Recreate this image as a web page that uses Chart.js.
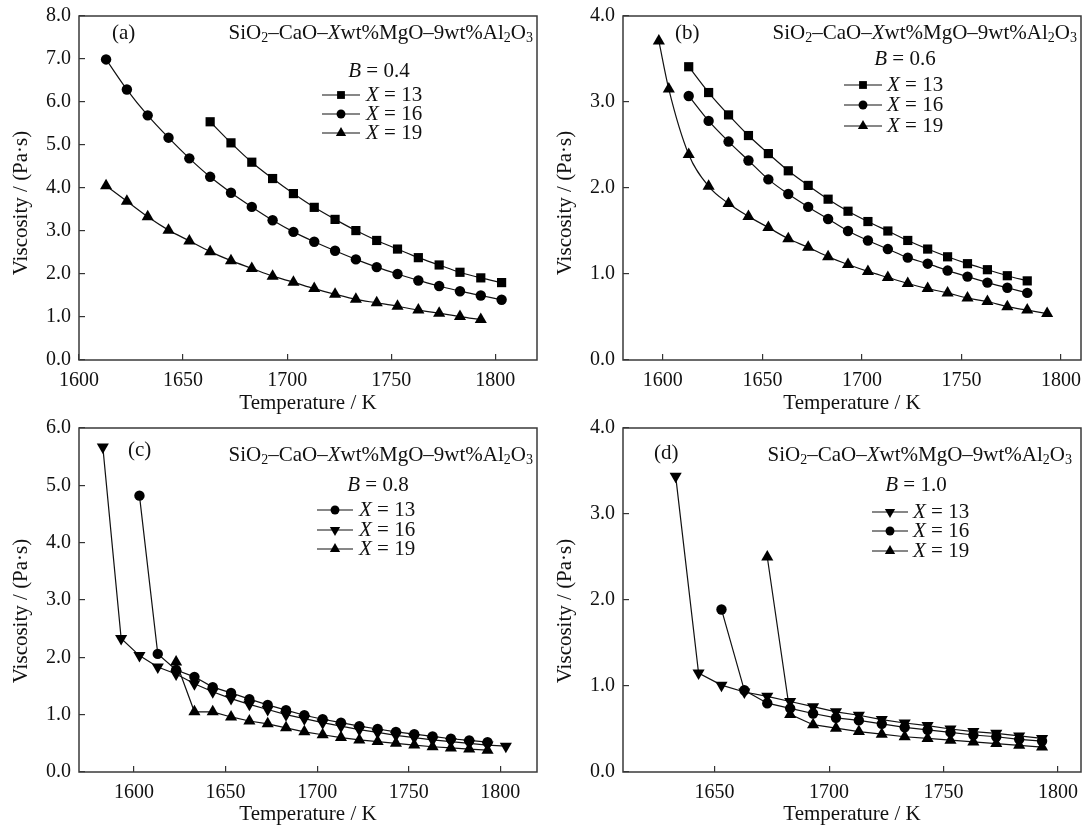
<!DOCTYPE html>
<html>
<head>
<meta charset="utf-8">
<script src="https://cdn.jsdelivr.net/npm/chart.js@4.4.1/dist/chart.umd.min.js"></script>
<style>
  body { margin: 0; background: #fff; }
  #wrap { position: relative; width: 1088px; height: 830px; }
  canvas { position: absolute; }
</style>
</head>
<body>
<div id="wrap">
  <canvas id="panelA" width="544" height="416" style="left:0;top:0"></canvas>
  <canvas id="panelB" width="544" height="416" style="left:544px;top:0"></canvas>
  <canvas id="panelC" width="544" height="414" style="left:0;top:416px"></canvas>
  <canvas id="panelD" width="544" height="414" style="left:544px;top:416px"></canvas>
</div>
<script>
// (a) B = 0.4
const aTemp13 = [1663, 1673, 1683, 1693, 1703, 1713, 1723, 1733, 1743, 1753, 1763, 1773, 1783, 1793, 1803];
const aVisc13 = [5.54, 5.05, 4.60, 4.22, 3.87, 3.55, 3.27, 3.01, 2.78, 2.58, 2.38, 2.21, 2.04, 1.91, 1.80];
const aTemp16 = [1613, 1623, 1633, 1643, 1653, 1663, 1673, 1683, 1693, 1703, 1713, 1723, 1733, 1743, 1753, 1763, 1773, 1783, 1793, 1803];
const aVisc16 = [6.99, 6.29, 5.69, 5.17, 4.69, 4.26, 3.89, 3.56, 3.25, 2.98, 2.75, 2.54, 2.34, 2.16, 2.00, 1.85, 1.72, 1.60, 1.50, 1.40];
const aTemp19 = [1613, 1623, 1633, 1643, 1653, 1663, 1673, 1683, 1693, 1703, 1713, 1723, 1733, 1743, 1753, 1763, 1773, 1783, 1793];
const aVisc19 = [4.05, 3.69, 3.33, 3.02, 2.77, 2.52, 2.31, 2.13, 1.95, 1.81, 1.66, 1.53, 1.41, 1.33, 1.25, 1.16, 1.09, 1.01, 0.94];

// (b) B = 0.6
const bTemp13 = [1613, 1623, 1633, 1643, 1653, 1663, 1673, 1683, 1693, 1703, 1713, 1723, 1733, 1743, 1753, 1763, 1773, 1783];
const bVisc13 = [3.41, 3.11, 2.85, 2.61, 2.40, 2.20, 2.03, 1.87, 1.73, 1.61, 1.50, 1.39, 1.29, 1.20, 1.12, 1.05, 0.98, 0.92];
const bTemp16 = [1613, 1623, 1633, 1643, 1653, 1663, 1673, 1683, 1693, 1703, 1713, 1723, 1733, 1743, 1753, 1763, 1773, 1783];
const bVisc16 = [3.07, 2.78, 2.54, 2.32, 2.10, 1.93, 1.78, 1.64, 1.50, 1.39, 1.29, 1.19, 1.12, 1.04, 0.97, 0.90, 0.84, 0.78];
const bTemp19 = [1598, 1603, 1613, 1623, 1633, 1643, 1653, 1663, 1673, 1683, 1693, 1703, 1713, 1723, 1733, 1743, 1753, 1763, 1773, 1783, 1793];
const bVisc19 = [3.71, 3.15, 2.39, 2.02, 1.82, 1.67, 1.54, 1.41, 1.31, 1.20, 1.11, 1.03, 0.96, 0.89, 0.83, 0.78, 0.72, 0.68, 0.62, 0.58, 0.54];

// (c) B = 0.8
const cTemp13 = [1603, 1613, 1623, 1633, 1643, 1653, 1663, 1673, 1683, 1693, 1703, 1713, 1723, 1733, 1743, 1753, 1763, 1773, 1783, 1793];
const cVisc13 = [4.82, 2.06, 1.78, 1.66, 1.48, 1.38, 1.27, 1.17, 1.08, 0.99, 0.92, 0.86, 0.80, 0.75, 0.70, 0.66, 0.62, 0.58, 0.55, 0.52];
const cTemp16 = [1583, 1593, 1603, 1613, 1623, 1633, 1643, 1653, 1663, 1673, 1683, 1693, 1703, 1713, 1723, 1733, 1743, 1753, 1763, 1773, 1783, 1793, 1803];
const cVisc16 = [5.67, 2.33, 2.03, 1.83, 1.71, 1.54, 1.40, 1.28, 1.18, 1.09, 1.00, 0.93, 0.86, 0.80, 0.74, 0.69, 0.64, 0.60, 0.56, 0.53, 0.50, 0.47, 0.45];
const cTemp19 = [1623, 1633, 1643, 1653, 1663, 1673, 1683, 1693, 1703, 1713, 1723, 1733, 1743, 1753, 1763, 1773, 1783, 1793];
const cVisc19 = [1.92, 1.05, 1.05, 0.96, 0.89, 0.84, 0.77, 0.70, 0.65, 0.60, 0.56, 0.53, 0.50, 0.47, 0.44, 0.42, 0.40, 0.38];

// (d) B = 1.0
const dTemp13 = [1633, 1643, 1653, 1663, 1673, 1683, 1693, 1703, 1713, 1723, 1733, 1743, 1753, 1763, 1773, 1783, 1793];
const dVisc13 = [3.44, 1.15, 1.01, 0.93, 0.88, 0.82, 0.76, 0.70, 0.66, 0.61, 0.57, 0.54, 0.50, 0.47, 0.45, 0.42, 0.39];
const dTemp16 = [1653, 1663, 1673, 1683, 1693, 1703, 1713, 1723, 1733, 1743, 1753, 1763, 1773, 1783, 1793];
const dVisc16 = [1.89, 0.95, 0.80, 0.74, 0.68, 0.63, 0.60, 0.56, 0.52, 0.49, 0.46, 0.43, 0.41, 0.38, 0.36];
const dTemp19 = [1673, 1683, 1693, 1703, 1713, 1723, 1733, 1743, 1753, 1763, 1773, 1783, 1793];
const dVisc19 = [2.50, 0.67, 0.55, 0.51, 0.47, 0.44, 0.41, 0.39, 0.37, 0.35, 0.33, 0.31, 0.29];

// tick values
const xTicksA = [1600, 1650, 1700, 1750, 1800];
const xTicksB = [1600, 1650, 1700, 1750, 1800];
const xTicksC = [1600, 1650, 1700, 1750, 1800];
const xTicksD = [1650, 1700, 1750, 1800];
const yTicksA = [0, 1, 2, 3, 4, 5, 6, 7, 8];
const yTicksB = [0, 1, 2, 3, 4];
const yTicksC = [0, 1, 2, 3, 4, 5, 6];
const yTicksD = [0, 1, 2, 3, 4];

const FONT = "'Liberation Serif', 'Times New Roman', serif";
const INK = "#111";
const TEXT_SIZE = 21;

function runFont(r) {
  return (r.italic ? "italic " : "") + (r.sub ? 14 : TEXT_SIZE) + "px " + FONT;
}

// draws a line of mixed text (italic letters, subscripts)
function drawRuns(ctx, runs, x, y, align) {
  let total = 0;
  runs.forEach(r => { ctx.font = runFont(r); total += ctx.measureText(r.t).width; });
  let cx = align === "right" ? x - total : align === "center" ? x - total / 2 : x;
  ctx.textAlign = "left";
  ctx.textBaseline = "middle";
  runs.forEach(r => {
    ctx.font = runFont(r);
    ctx.fillText(r.t, cx, y + (r.sub ? 5 : 0));
    cx += ctx.measureText(r.t).width;
  });
}

const systemRuns = [
  { t: "SiO" }, { t: "2", sub: true }, { t: "\u2013CaO\u2013" }, { t: "X", italic: true },
  { t: "wt%MgO\u20139wt%Al" }, { t: "2", sub: true }, { t: "O" }, { t: "3", sub: true }
];

const panelText = {
  id: "panelText",
  afterDraw(chart, args, opts) {
    const ctx = chart.ctx;
    const area = chart.chartArea;
    ctx.save();
    // frame
    ctx.strokeStyle = "#3a3a3a";
    ctx.lineWidth = 1.5;
    ctx.strokeRect(area.left, area.top, area.right - area.left, area.bottom - area.top);

    ctx.fillStyle = INK;
    drawRuns(ctx, [{ t: opts.label }], opts.labelPos[0], opts.labelPos[1], "left");
    drawRuns(ctx, systemRuns, opts.titlePos[0], opts.titlePos[1], "right");
    drawRuns(ctx, [{ t: "B", italic: true }, { t: " = " + opts.b }], opts.bPos[0], opts.bPos[1], "center");

    // vertical axis title
    ctx.save();
    ctx.translate(opts.yTitlePos[0], opts.yTitlePos[1]);
    ctx.rotate(-Math.PI / 2);
    drawRuns(ctx, [{ t: "Viscosity / (Pa\u00b7s)" }], 0, 0, "center");
    ctx.restore();

    const lg = opts.legend;
    chart.data.datasets.forEach((ds, i) => {
      const y = lg.rows[i];
      ctx.strokeStyle = INK;
      ctx.lineWidth = 1.2;
      ctx.beginPath();
      ctx.moveTo(lg.x1, y);
      ctx.lineTo(lg.x2, y);
      ctx.stroke();
      ctx.fillStyle = "#000";
      Chart.helpers.drawPoint(ctx, {
        pointStyle: ds.pointStyle, rotation: ds.pointRotation || 0,
        radius: ds.pointRadius * 0.85, borderWidth: 0
      }, lg.mx, y);
      ctx.fillStyle = INK;
      drawRuns(ctx, [{ t: "X", italic: true }, { t: ds.label.replace("X", "") }], lg.tx, y, "left");
    });
    ctx.restore();
  }
};

function series(label, temps, visc, style, rotation, radius) {
  return {
    label: label,
    data: temps.map((t, i) => ({ x: t, y: visc[i] })),
    borderColor: INK,
    borderWidth: 1.2,
    pointStyle: style,
    pointRotation: rotation,
    pointRadius: radius,
    pointBackgroundColor: "#000",
    pointBorderColor: "#000",
    pointBorderWidth: 0
  };
}

function makePanel(id, cfg) {
  const tickFont = { family: FONT, size: 20 };
  new Chart(document.getElementById(id), {
    type: "line",
    data: { datasets: cfg.datasets },
    plugins: [panelText],
    options: {
      responsive: false,
      animation: false,
      devicePixelRatio: 1,
      layout: { padding: { top: cfg.padTop, right: 3, left: 0, bottom: 0 } },
      elements: { line: { cubicInterpolationMode: cfg.smooth ? "monotone" : "default", tension: 0 } },
      plugins: { legend: { display: false }, tooltip: { enabled: false }, panelText: cfg.text },
      scales: {
        x: {
          type: "linear", bounds: "data", min: cfg.xMin, max: cfg.xMax,
          afterBuildTicks: s => { s.ticks = cfg.xTicks.map(v => ({ value: v })); },
          afterFit: s => {
            s.height = cfg.xAxisHeight;
            s.paddingLeft = 0;
            s.paddingRight = 0;
          },
          border: { display: false },
          grid: { drawOnChartArea: false, drawTicks: true, tickLength: -6, color: "#333", lineWidth: 1.2 },
          ticks: { font: tickFont, color: INK, padding: 15, maxRotation: 0, callback: v => String(v) },
          title: { display: true, text: "Temperature / K", font: { family: FONT, size: TEXT_SIZE }, color: INK, padding: { top: 0, bottom: cfg.xTitlePad } }
        },
        y: {
          type: "linear", bounds: "data", min: cfg.yMin, max: cfg.yMax,
          afterBuildTicks: s => { s.ticks = cfg.yTicks.map(v => ({ value: v })); },
          afterFit: s => {
            s.width = 79;
            s.paddingTop = 0;
            s.paddingBottom = 0;
          },
          border: { display: false },
          grid: { drawOnChartArea: false, drawTicks: true, tickLength: -6, color: "#333", lineWidth: 1.2 },
          ticks: { font: tickFont, color: INK, padding: 14, callback: v => v.toFixed(1) }
        }
      }
    }
  });
}

makePanel("panelA", {
  xMin: 1600, xMax: 1820, yMin: 0, yMax: 8, xTicks: xTicksA, yTicks: yTicksA,
  padTop: 16, xAxisHeight: 56, xTitlePad: 0, smooth: true,
  datasets: [
    series("X = 13", aTemp13, aVisc13, "rect", 0, 6.5),
    series("X = 16", aTemp16, aVisc16, "circle", 0, 5.2),
    series("X = 19", aTemp19, aVisc19, "triangle", 0, 7)
  ],
  text: {
    label: "(a)", labelPos: [112, 33], titlePos: [533, 33], b: "0.4", bPos: [379, 71],
    yTitlePos: [21, 203],
    legend: { x1: 322, x2: 360, mx: 341, tx: 366, rows: [95, 114, 133] }
  }
});

makePanel("panelB", {
  xMin: 1580, xMax: 1810, yMin: 0, yMax: 4, xTicks: xTicksB, yTicks: yTicksB,
  padTop: 16, xAxisHeight: 56, xTitlePad: 0, smooth: true,
  datasets: [
    series("X = 13", bTemp13, bVisc13, "rect", 0, 6.5),
    series("X = 16", bTemp16, bVisc16, "circle", 0, 5.2),
    series("X = 19", bTemp19, bVisc19, "triangle", 0, 7)
  ],
  text: {
    label: "(b)", labelPos: [131, 33], titlePos: [533, 33], b: "0.6", bPos: [361, 59],
    yTitlePos: [21, 203],
    legend: { x1: 300, x2: 338, mx: 319, tx: 343, rows: [85, 105, 126] }
  }
});

makePanel("panelC", {
  xMin: 1570, xMax: 1820, yMin: 0, yMax: 6, xTicks: xTicksC, yTicks: yTicksC,
  padTop: 12, xAxisHeight: 58, xTitlePad: 3, smooth: false,
  datasets: [
    series("X = 13", cTemp13, cVisc13, "circle", 0, 5.2),
    series("X = 16", cTemp16, cVisc16, "triangle", 180, 7),
    series("X = 19", cTemp19, cVisc19, "triangle", 0, 7)
  ],
  text: {
    label: "(c)", labelPos: [128, 34], titlePos: [533, 39], b: "0.8", bPos: [378, 69],
    yTitlePos: [21, 195],
    legend: { x1: 317, x2: 353, mx: 335, tx: 359, rows: [94, 114, 133] }
  }
});

makePanel("panelD", {
  xMin: 1610, xMax: 1810, yMin: 0, yMax: 4, xTicks: xTicksD, yTicks: yTicksD,
  padTop: 12, xAxisHeight: 58, xTitlePad: 3, smooth: false,
  datasets: [
    series("X = 13", dTemp13, dVisc13, "triangle", 180, 7),
    series("X = 16", dTemp16, dVisc16, "circle", 0, 5.2),
    series("X = 19", dTemp19, dVisc19, "triangle", 0, 7)
  ],
  text: {
    label: "(d)", labelPos: [110, 37], titlePos: [528, 39], b: "1.0", bPos: [372, 69],
    yTitlePos: [21, 195],
    legend: { x1: 328, x2: 364, mx: 346, tx: 369, rows: [96, 115, 135] }
  }
});
</script>
</body>
</html>
